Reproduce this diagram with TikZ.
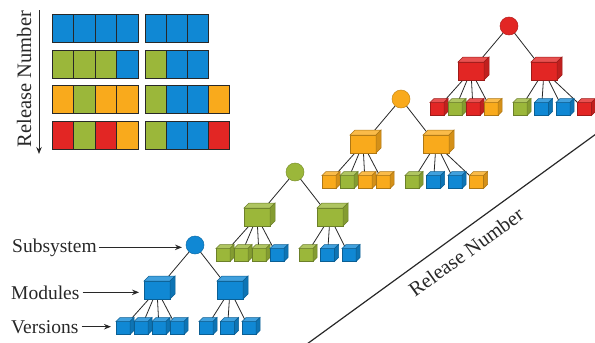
\documentclass[tikz,border=0pt]{standalone}
\usepackage{fontspec}
\setmainfont{Liberation Serif}
\usetikzlibrary{arrows.meta}
\pgfdeclarelayer{background}
\pgfsetlayers{background,main}
\definecolor{cB}{RGB}{16,136,212}
\definecolor{cG}{RGB}{155,183,58}
\definecolor{cO}{RGB}{249,170,28}
\definecolor{cR}{RGB}{226,38,36}
\definecolor{ink}{RGB}{40,40,40}
\tikzset{
 sub/.style={circle, minimum size=18pt, inner sep=0pt, outer sep=0pt, line width=0.5pt},
 mfront/.style={rectangle, minimum width=26pt, minimum height=18pt, inner sep=0pt, outer sep=0pt, line width=0.5pt},
 vfront/.style={rectangle, minimum width=14pt, minimum height=13pt, inner sep=0pt, outer sep=0pt, line width=0.5pt},
 link/.style={draw=ink, line width=0.8pt},
 lab/.style={inner sep=0pt, anchor=base west, text=ink, font=\fontsize{19.5}{23}\selectfont},
 big/.style={inner sep=0pt, text=ink, font=\fontsize{20.5}{24}\selectfont},
 arr/.style={draw=ink, line width=1pt, -{Stealth[length=7pt,width=5.5pt]}},
 cell/.style={draw=ink, line width=0.8pt},
 facetop/.style={line width=0.5pt},
}
\newcommand\mcube[4]{%
 \node[mfront, fill=#4, draw=#4!70!black] (#1) at (#2,#3) {};
 \filldraw[facetop, fill=#4!80!white, draw=#4!70!black] (#1.north west) -- ++(5,-5) -- ++(26,0) -- (#1.north east) -- cycle;
 \filldraw[facetop, fill=#4!85!black, draw=#4!70!black] (#1.north east) -- ++(5,-5) -- ++(0,18) -- (#1.south east) -- cycle;
}
\newcommand\vcube[4]{%
 \node[vfront, fill=#4, draw=#4!70!black] (#1) at (#2,#3) {};
 \filldraw[facetop, fill=#4!80!white, draw=#4!70!black] (#1.north west) -- ++(4,-4) -- ++(14,0) -- (#1.north east) -- cycle;
 \filldraw[facetop, fill=#4!85!black, draw=#4!70!black] (#1.north east) -- ++(4,-4) -- ++(0,13) -- (#1.south east) -- cycle;
}
\newcommand\tree[6]{%
 \node[sub, fill=#4, draw=#4!80!black] (#1c) at (#2,#3) {};
 \mcube{#1mL}{#2-38}{#3+45}{#4}
 \mcube{#1mR}{#2+35}{#3+45}{#4}
 \begin{pgfonlayer}{background}
  \draw[link] (#1c.center) -- (#1mL.center);
  \draw[link] (#1c.center) -- (#1mR.center);
 \end{pgfonlayer}
 \foreach \cc [count=\i] in {#5} {
   \vcube{#1vL\i}{#2-72+18*\i-18}{#3+83}{\cc}
   \begin{pgfonlayer}{background}\draw[link] (#1mL.center) -- (#1vL\i.center);\end{pgfonlayer}
 }
 \foreach \cc [count=\i] in {#6} {
   \vcube{#1vR\i}{#2+11+21.5*\i-21.5}{#3+83}{\cc}
   \begin{pgfonlayer}{background}\draw[link] (#1mR.center) -- (#1vR\i.center);\end{pgfonlayer}
 }
}
\begin{document}
\begin{tikzpicture}[x=1pt,y=-1pt]
\path[use as bounding box] (0,0) rectangle (595,343);
% grid
\foreach \lst [count=\r] in {{cB,cB,cB,cB},{cG,cG,cG,cB},{cO,cG,cO,cO},{cR,cG,cR,cO}} {
  \foreach \cc [count=\i] in \lst {
    \filldraw[cell, fill=\cc] ({52+21.5*(\i-1)},{14.5+35.6*(\r-1)}) rectangle ++(21.5,28);
  }
}
\foreach \lst [count=\r] in {{cB,cB,cB},{cG,cB,cB},{cG,cB,cB,cO},{cG,cB,cB,cR}} {
  \foreach \cc [count=\i] in \lst {
    \filldraw[cell, fill=\cc] ({145+21*(\i-1)},{14.5+35.6*(\r-1)}) rectangle ++(21,28);
  }
}
\coordinate (a1) at (39,10);
\coordinate (a2) at (39,154);
\draw[arr] (a1) -- (a2);
\node[big, rotate=90] (rn1) at (24,79) {Release Number};
% diagonal axis
\coordinate (d1) at (307,344);
\coordinate (d2) at (596,134);
\draw[draw=ink, line width=1.2pt] (d1) -- (d2);
\node[big, rotate=36] (rn2) at (466,252) {Release Number};
% trees
\tree{b}{195}{245}{cB}{cB,cB,cB,cB}{cB,cB,cB}
\tree{g}{295}{172}{cG}{cG,cG,cG,cB}{cG,cB,cB}
\tree{o}{401}{99}{cO}{cO,cG,cO,cO}{cG,cB,cB,cO}
\tree{r}{509}{26}{cR}{cR,cG,cR,cO}{cG,cB,cB,cR}
% labels
\node[lab] (lsub) at (12,252) {Subsystem};
\node[lab] (lmod) at (11,299) {Modules};
\node[lab] (lver) at (11,333) {Versions};
\draw[arr, shorten <=2pt, shorten >=4pt] (lsub.east) -- (lsub.east -| bc.west);
\draw[arr, shorten <=3pt, shorten >=5pt] (lmod.east) -- (lmod.east -| bmL.west);
\draw[arr, shorten <=3pt, shorten >=5pt] (lver.east) -- (lver.east -| bvL1.west);
\end{tikzpicture}
\end{document}
